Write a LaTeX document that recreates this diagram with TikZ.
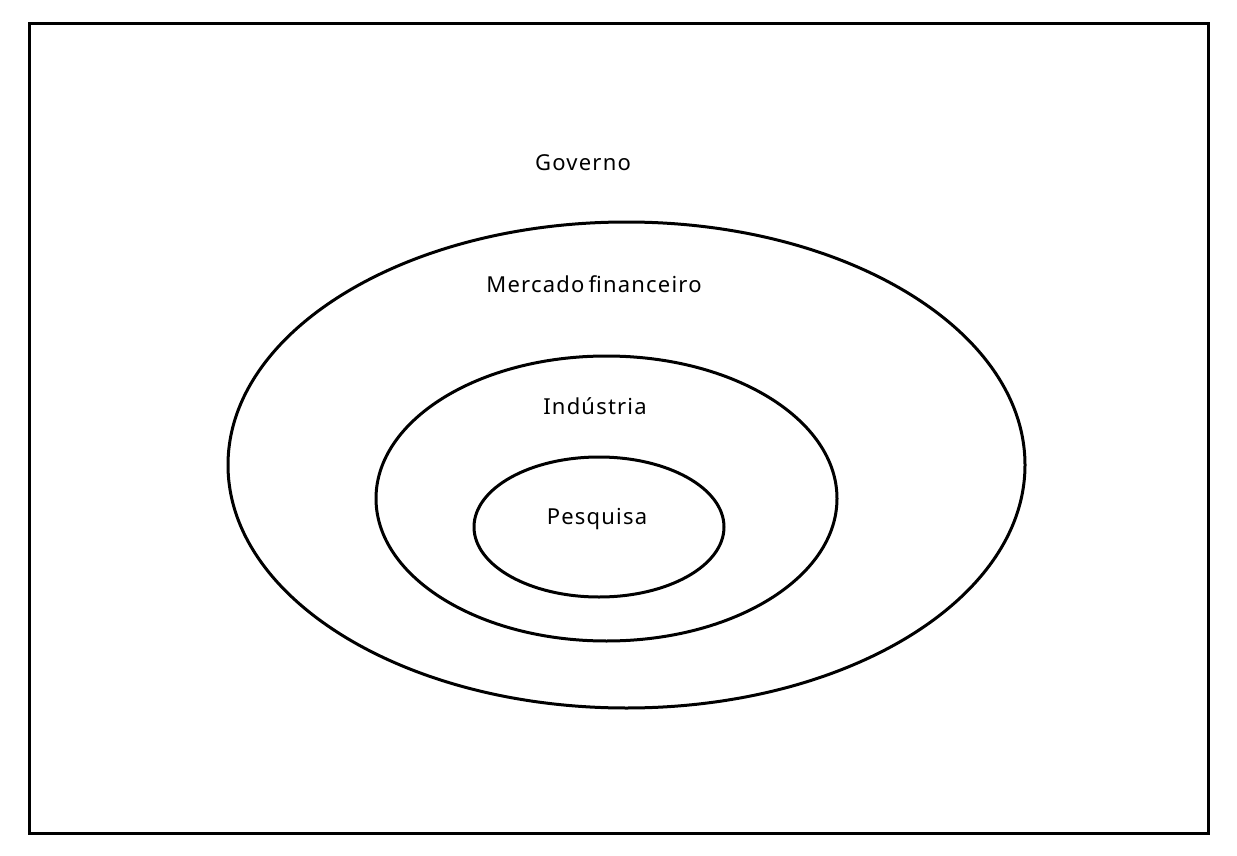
\documentclass[tikz,border=0pt]{standalone}
\usepackage{fontspec}
\setmainfont{Noto Sans}[LetterSpace=5.5,WordSpace=0.6]
\begin{document}
\begin{tikzpicture}[x=1pt,y=-1pt,
  ring/.style={draw=black,line width=3pt},
  lbl/.style={font=\fontsize{22}{26}\selectfont,inner sep=0pt}]
\useasboundingbox (0,0) rectangle (1237,856);
% frame for the outermost level
\draw[ring] (29,24) rectangle (1208,833);
% nested levels
\draw[ring] (626.5,465) ellipse [x radius=398.5, y radius=243];
\draw[ring] (606.5,498.5) ellipse [x radius=230.5, y radius=142.5];
\draw[ring] (599,527) ellipse [x radius=125, y radius=70];
\node[lbl] (gov) at (583,163) {Governo};
\node[lbl] (mer) at (594,284) {Mercado financeiro};
\node[lbl] (ind) at (595,406) {Indústria};
\node[lbl] (pes) at (597,519) {Pesquisa};
\end{tikzpicture}
\end{document}
